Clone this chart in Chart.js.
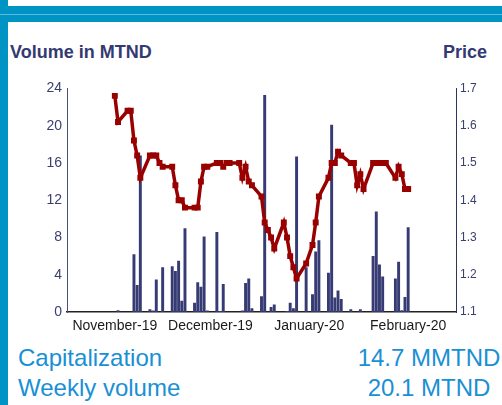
<!DOCTYPE html>
<html>
<head>
<meta charset="utf-8">
<script src="https://cdn.jsdelivr.net/npm/chart.js@4.4.0/dist/chart.umd.min.js"></script>
<style>
  body { margin: 0; width: 502px; height: 405px; overflow: hidden; background: #fff; position: relative;
         font-family: "Liberation Sans", Arial, sans-serif; }
  .side { position: absolute; left: 0; top: 0; width: 8px; height: 405px; background: #0094c5; }
  .band { position: absolute; left: 0; top: 6px; width: 502px; height: 16px; background: #0094c5; }
  .band-line { position: absolute; left: 0; top: 14px; width: 502px; height: 1px; background: #5cb9dd; }
  .title { position: absolute; top: 43px; font-size: 18px; line-height: 18px; font-weight: bold; color: #333a72; }
  .info { position: absolute; font-size: 24px; line-height: 24px; color: #1a90d4; white-space: nowrap; }
  #wrap { position: absolute; left: 0; top: 75px; width: 502px; height: 267px; }
</style>
</head>
<body>
<div class="side"></div>
<div class="band"></div>
<div class="band-line"></div>
<div class="title" style="left:10px">Volume in MTND</div>
<div class="title" style="left:443px">Price</div>
<div id="wrap"><canvas id="chart" width="502" height="267"></canvas></div>
<div class="info" style="left:18px; top:346px">Capitalization</div>
<div class="info" style="left:329px; width:200px; text-align:center; top:346px">14.7 MMTND</div>
<div class="info" style="left:18px; top:376px">Weekly volume</div>
<div class="info" style="left:329px; width:200px; text-align:center; top:376px">20.1 MTND</div>
<script>
// trading days (weekends skipped)
const dates = [
  '2019-10-31', '2019-11-01', '2019-11-04', '2019-11-05', '2019-11-06', '2019-11-07', '2019-11-08',
  '2019-11-11', '2019-11-12', '2019-11-13', '2019-11-14', '2019-11-15',
  '2019-11-18', '2019-11-19', '2019-11-20', '2019-11-21', '2019-11-22',
  '2019-11-25', '2019-11-26', '2019-11-27', '2019-11-28', '2019-11-29',
  '2019-12-02', '2019-12-03', '2019-12-04', '2019-12-05', '2019-12-06',
  '2019-12-09', '2019-12-10', '2019-12-11', '2019-12-12', '2019-12-13',
  '2019-12-16', '2019-12-17', '2019-12-18', '2019-12-19', '2019-12-20',
  '2019-12-23', '2019-12-24', '2019-12-25', '2019-12-26', '2019-12-27',
  '2019-12-30', '2020-01-01', '2020-01-02', '2020-01-03',
  '2020-01-06', '2020-01-07', '2020-01-08', '2020-01-09', '2020-01-10',
  '2020-01-13', '2020-01-14', '2020-01-15', '2020-01-16', '2020-01-17',
  '2020-01-20', '2020-01-21', '2020-01-22', '2020-01-23', '2020-01-24',
  '2020-01-27', '2020-01-28', '2020-01-29', '2020-01-30', '2020-01-31'
];
// volume in MTND
const volume = [
  0, 0.2, 0, 0, 6.2, 2.9, 16.8,
  0.3, 0.15, 3.5, 0, 4.8,
  4.9, 4.4, 5.5, 1.2, 9.0,
  1.0, 3.2, 2.7, 8.1, 0.15,
  8.6, 0.1, 3.0, 0, 0,
  0, 0.15, 3.1, 3.6, 0.4,
  1.7, 23.3, 0, 0.55, 0.8,
  0, 0.1, 1.0, 0.4, 16.7,
  4.8, 1.9, 6.5, 7.7,
  4.2, 20.1, 1.55, 2.3, 1.4,
  0.3, 0, 0, 0.3, 0,
  6.0, 10.8, 5.1, 3.8, 0,
  3.6, 5.4, 0.2, 1.6, 9.1
];
// price
const price = [
  1.68, 1.61, 1.64, 1.64, 1.56, 1.52, 1.46,
  1.52, 1.52, 1.52, 1.50, 1.49,
  1.49, 1.44, 1.40, 1.40, 1.38,
  1.38, 1.38, 1.45, 1.49, 1.49,
  1.50, 1.50, 1.49, 1.50, 1.50,
  1.50, 1.46, 1.49, 1.45, 1.44,
  1.41, 1.34, 1.32, 1.30, 1.27,
  1.34, 1.30, 1.25, 1.22, 1.19,
  1.23, 1.28, 1.34, 1.41,
  1.46, 1.50, 1.50, 1.53, 1.52,
  1.50, 1.50, 1.44, 1.47, 1.43,
  1.50, 1.50, 1.50, 1.50, 1.50,
  1.46, 1.49, 1.47, 1.43, 1.43
];
const tickDates = ['2019-10-31', '2019-11-30', '2019-12-31', '2020-01-31'];
const tickLabels = ['November-19', 'December-19', 'January-20', 'February-20'];
const xStart = '2019-10-16';
const xEnd = '2020-02-15';

const dayNum = s => Date.parse(s + 'T00:00:00Z') / 86400000;

const chart = new Chart(document.getElementById('chart'), {
  type: 'bar',
  data: {
    datasets: [{
      type: 'line',
      label: 'Price',
      data: dates.map((d, i) => ({ x: dayNum(d), y: price[i] })),
      yAxisID: 'y1',
      borderColor: '#990000',
      borderWidth: 3.5,
      pointStyle: 'rect',
      pointRadius: 4.2,
      pointBorderWidth: 0,
      pointBackgroundColor: '#990000',
      tension: 0,
      order: 0
    }, {
      label: 'Volume',
      data: dates.map((d, i) => ({ x: dayNum(d), y: volume[i] })),
      yAxisID: 'y',
      backgroundColor: '#363c73',
      borderWidth: 0,
      categoryPercentage: 1,
      barPercentage: 0.92,
      order: 1
    }]
  },
  options: {
    responsive: false,
    animation: false,
    layout: { padding: { top: 10, left: 0, right: 0, bottom: 0 } },
    plugins: { legend: { display: false }, tooltip: { enabled: false } },
    scales: {
      x: {
        type: 'linear',
        offset: false,
        min: dayNum(xStart),
        max: dayNum(xEnd),
        grid: { display: false, drawTicks: false },
        border: { display: true, color: '#222222', width: 1.5 },
        afterBuildTicks: scale => { scale.ticks = tickDates.map(d => ({ value: dayNum(d) })); },
        afterFit: scale => { scale.height = 30; },
        ticks: {
          autoSkip: false,
          maxRotation: 0,
          padding: 6,
          color: '#1a1a1a',
          font: { family: 'Liberation Sans', size: 14 },
          callback: (value, index) => tickLabels[index]
        }
      },
      y: {
        position: 'left',
        min: 0,
        max: 24,
        grid: { display: false, drawTicks: false },
        border: { display: true, color: '#4a4f7a', width: 1 },
        afterFit: scale => { scale.width = 67; },
        ticks: {
          stepSize: 4,
          padding: 5,
          color: '#3a3f6f',
          font: { family: 'Liberation Sans', size: 14 }
        }
      },
      y1: {
        position: 'right',
        min: 1.1,
        max: 1.7,
        grid: { display: false, drawTicks: false },
        border: { display: true, color: '#2e3360', width: 1 },
        afterFit: scale => { scale.width = 46; },
        ticks: {
          stepSize: 0.1,
          padding: 4,
          color: '#3a3f6f',
          font: { family: 'Liberation Sans', size: 12 },
          callback: value => value.toFixed(1)
        }
      }
    }
  }
});
</script>
</body>
</html>
